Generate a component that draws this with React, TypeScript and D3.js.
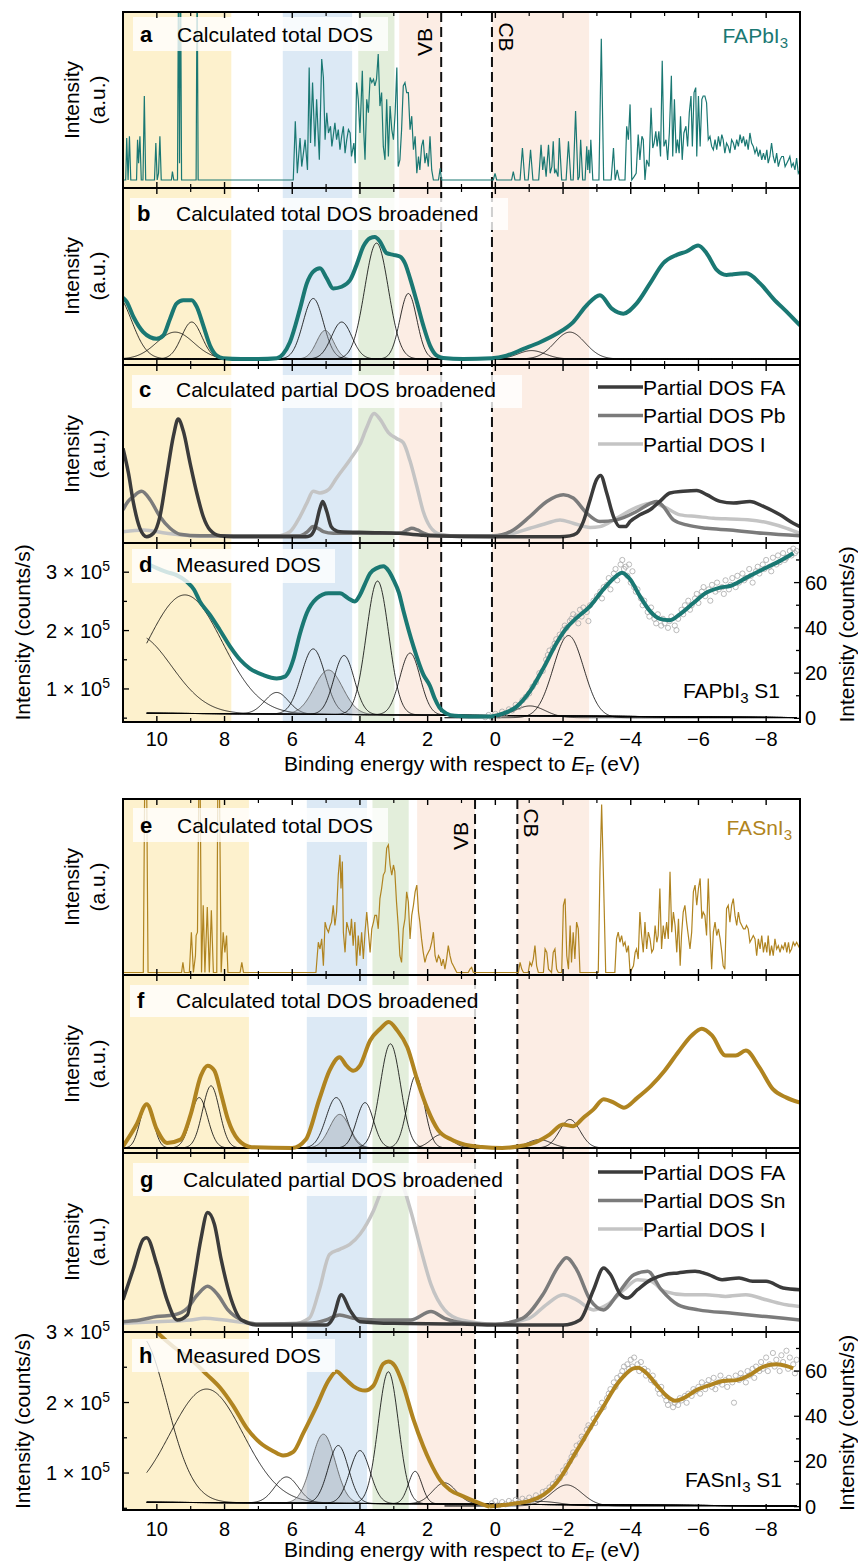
import React from "react";
import * as d3 from "d3";

type P = [number, number];

// ---------- axes ----------
const energyTicks = [10, 8, 6, 4, 2, 0, -2, -4, -6, -8];
const energyMinor = [9, 7, 5, 3, 1, -1, -3, -5, -7];
const leftCountTicks = [1, 2, 3]; // x 10^5 counts/s
const leftCountMinor = [0.5, 1.5, 2.5, 3.5];
const rightCountTicks = [0, 20, 40, 60];
const rightCountMinor = [10, 30, 50, 70];

// shaded energy windows (eV) and band edges
const bandsPb: P[] = [[11, 7.8], [6.28, 4.23], [4.05, 2.98], [2.84, 1.6], [0.1, -2.77]];
const bandsSn: P[] = [[11, 7.28], [5.57, 3.79], [3.63, 2.56], [2.31, 0.6], [-0.65, -2.77]];
const bandKinds = ["yellow", "blue", "green", "peach", "peach"];
const edgesPb = { vb: 1.6, cb: 0.1 };
const edgesSn = { vb: 0.6, cb: -0.65 };

// ---------- a: calculated total DOS FAPbI3 (a.u.) ----------
const totalPb: P[] = [
  [11.0, 0], [10.92, 0], [10.89, 25], [10.85, 0], [10.81, 26], [10.77, 0], [10.6, 0], [10.57, 24], [10.54, 10], [10.5, 26], [10.46, 0],
  [10.41, 0], [10.37, 50], [10.33, 0], [10.07, 0], [10.03, 22], [9.99, 0], [9.95, 4], [9.91, 26], [9.87, 0], [9.57, 0], [9.54, 5], [9.5, 0],
  [9.39, 0], [9.36, 130], [9.33, 10], [9.3, 130], [9.27, 0], [8.84, 0], [8.81, 130], [8.78, 0], [5.97, 0],
  [5.91, 35], [5.85, 4], [5.77, 25], [5.72, 8], [5.62, 24], [5.55, 6], [5.5, 67], [5.46, 22], [5.4, 58], [5.33, 20], [5.28, 48], [5.2, 12],
  [5.13, 72], [5.08, 61], [5.03, 24], [4.98, 40], [4.93, 28], [4.87, 32], [4.83, 20], [4.79, 26], [4.74, 34], [4.69, 24], [4.64, 30], [4.59, 18],
  [4.54, 26], [4.49, 32], [4.44, 16], [4.39, 24], [4.34, 30], [4.29, 28], [4.25, 14], [4.18, 22], [4.14, 10], [4.1, 58], [4.05, 48], [4.0, 28],
  [3.93, 65], [3.89, 30], [3.85, 12], [3.8, 48], [3.75, 40], [3.7, 61], [3.65, 58], [3.6, 60], [3.56, 56], [3.51, 60], [3.46, 75], [3.41, 44],
  [3.36, 52], [3.31, 20], [3.26, 12], [3.21, 48], [3.16, 14], [3.11, 44], [3.06, 30], [3.01, 24], [2.96, 40], [2.91, 67], [2.87, 8], [2.82, 12],
  [2.77, 30], [2.72, 56], [2.67, 58], [2.62, 52], [2.57, 52], [2.52, 30], [2.47, 38], [2.42, 18], [2.37, 26], [2.32, 4], [2.27, 14], [2.23, 6],
  [2.18, 20], [2.13, 24], [2.08, 10], [2.03, 16], [1.98, 8], [1.93, 26], [1.88, 6], [1.83, 0], [1.68, 0], [1.63, 7], [1.59, 0],
  [0.06, 0], [0.01, 4], [-0.04, 0], [-0.48, 0], [-0.53, 5], [-0.58, 0], [-0.73, 0], [-0.8, 19], [-0.87, 0], [-0.97, 0], [-1.04, 18], [-1.11, 0],
  [-1.28, 0], [-1.35, 21], [-1.4, 6], [-1.44, 14], [-1.5, 2], [-1.57, 21], [-1.62, 4], [-1.67, 8], [-1.71, 23], [-1.75, 4], [-1.79, 6], [-1.85, 2],
  [-1.89, 25], [-1.96, 0], [-2.09, 0], [-2.16, 23], [-2.23, 0], [-2.3, 0], [-2.37, 41], [-2.44, 0], [-2.48, 2], [-2.52, 24], [-2.58, 0], [-2.65, 0],
  [-2.7, 20], [-2.73, 6], [-2.76, 18], [-2.79, 4], [-2.82, 24], [-2.88, 0], [-3.06, 0], [-3.13, 84], [-3.2, 0], [-3.42, 0], [-3.49, 19], [-3.54, 0],
  [-3.6, 6], [-3.66, 0], [-3.83, 0], [-3.88, 32], [-3.93, 24], [-3.98, 45], [-4.03, 0], [-4.1, 2], [-4.16, 4], [-4.22, 27], [-4.27, 12], [-4.33, 26],
  [-4.37, 24], [-4.42, 0], [-4.47, 12], [-4.54, 8], [-4.6, 43], [-4.65, 19], [-4.69, 22], [-4.74, 29], [-4.78, 20], [-4.83, 29], [-4.88, 14],
  [-4.93, 71], [-4.98, 20], [-5.04, 24], [-5.09, 12], [-5.14, 28], [-5.2, 62], [-5.24, 14], [-5.29, 48], [-5.34, 16], [-5.38, 24], [-5.43, 16],
  [-5.47, 38], [-5.52, 12], [-5.57, 28], [-5.63, 32], [-5.68, 20], [-5.73, 40], [-5.78, 50], [-5.82, 20], [-5.87, 52], [-5.92, 55], [-5.95, 14],
  [-6.0, 50], [-6.05, 20], [-6.1, 48], [-6.14, 50], [-6.19, 50], [-6.24, 46], [-6.29, 24], [-6.34, 26], [-6.39, 20], [-6.44, 18], [-6.49, 24],
  [-6.54, 18], [-6.59, 26], [-6.64, 20], [-6.69, 27], [-6.73, 24], [-6.78, 16], [-6.83, 22], [-6.88, 20], [-6.93, 16], [-6.98, 24], [-7.03, 22],
  [-7.08, 18], [-7.13, 24], [-7.18, 20], [-7.23, 27], [-7.28, 22], [-7.33, 26], [-7.38, 20], [-7.42, 24], [-7.47, 18], [-7.52, 28], [-7.57, 22],
  [-7.62, 20], [-7.67, 16], [-7.72, 19], [-7.77, 14], [-7.82, 18], [-7.87, 12], [-7.92, 16], [-7.97, 12], [-8.02, 18], [-8.06, 10], [-8.11, 14],
  [-8.16, 22], [-8.21, 14], [-8.26, 10], [-8.31, 16], [-8.36, 8], [-8.41, 12], [-8.46, 14], [-8.51, 14], [-8.56, 8], [-8.61, 10], [-8.66, 12],
  [-8.7, 14], [-8.75, 8], [-8.8, 10], [-8.85, 6], [-8.9, 13], [-8.95, 4], [-9.0, 6],
];

// ---------- b: broadened total DOS FAPbI3 ----------
const broadPb: P[] = [
  [11.0, 36.5], [10.89, 34], [10.69, 25], [10.4, 16], [10.2, 13], [10.01, 12], [9.81, 14], [9.61, 24], [9.42, 33], [9.22, 35], [8.97, 35],
  [8.82, 31], [8.63, 20], [8.43, 8], [8.23, 2], [8.04, 0.5], [7.5, 0], [7.0, 0], [6.46, 0.5], [6.27, 3], [6.07, 10], [5.77, 30], [5.57, 45],
  [5.38, 52], [5.18, 54], [4.98, 48], [4.79, 42], [4.54, 43], [4.29, 47], [4.1, 56], [3.9, 67], [3.7, 72], [3.56, 72.6], [3.41, 70], [3.21, 63],
  [3.01, 62], [2.82, 61], [2.67, 57], [2.52, 48], [2.32, 34], [2.13, 20], [1.93, 8], [1.73, 2], [1.54, 0.6], [0.95, 0], [0.11, 0.4], [-0.33, 2],
  [-0.83, 6], [-1.32, 10], [-1.81, 15], [-2.3, 22], [-2.7, 32], [-3.09, 38], [-3.44, 30], [-3.78, 27], [-4.17, 33], [-4.57, 45], [-4.96, 57],
  [-5.36, 62], [-5.65, 64], [-5.99, 67.5], [-6.24, 63], [-6.54, 53], [-6.83, 50], [-7.03, 50.5], [-7.42, 51], [-7.82, 45], [-8.21, 36],
  [-8.61, 28], [-9.0, 20],
];
// fitted components: [centre eV, height, sigma eV]
const compsPbCalc = [
  [11.2, 38, 0.45], [9.46, 16, 0.55], [8.97, 22, 0.3], [5.38, 36, 0.3], [5.03, 17, 0.25], [4.54, 22, 0.3], [3.51, 69, 0.35],
  [2.57, 39, 0.25], [-1.07, 5, 0.4], [-2.2, 16, 0.45],
];
const shadedPbCalc = [4];

// ---------- c: partial DOS FAPbI3 ----------
const partialPbFA: P[] = [
  [11.0, 52.6], [10.84, 38], [10.69, 20], [10.5, 5], [10.3, 0], [10.1, 2], [9.91, 12], [9.71, 36], [9.51, 60], [9.37, 70], [9.22, 63], [9.02, 44],
  [8.82, 26], [8.63, 12], [8.43, 4], [8.13, 0.5], [7.74, 0], [5.6, 0], [5.48, 0.5], [5.33, 5], [5.18, 17], [5.1, 21], [4.98, 15], [4.85, 6],
  [4.7, 3.5], [4.59, 3], [3.8, 2.5], [2.82, 2], [2.23, 1], [1.93, 0.5], [0, 0], [-1.9, 0], [-2.2, 0.5], [-2.4, 2], [-2.6, 9], [-2.8, 22],
  [-2.99, 34], [-3.11, 36.5], [-3.29, 26], [-3.49, 12], [-3.68, 6], [-3.85, 6], [-3.98, 9], [-4.27, 13], [-4.57, 16], [-4.86, 21], [-5.16, 26],
  [-5.55, 27], [-5.95, 27.5], [-6.24, 25], [-6.64, 21], [-7.03, 20], [-7.52, 21], [-7.92, 18], [-8.41, 13], [-8.8, 8], [-9.0, 6],
];
const partialPbPb: P[] = [
  [11.0, 16], [10.85, 21], [10.69, 24], [10.45, 27], [10.2, 22], [9.91, 12], [9.61, 5], [9.32, 1.5], [8.73, 0.5], [5.77, 0.5], [5.55, 3],
  [5.38, 6], [5.2, 4.5], [5.08, 3], [4.79, 2], [3.8, 2], [2.82, 2], [2.6, 4], [2.47, 5], [2.3, 4], [2.1, 2], [1.93, 1], [0.95, 0.5], [0.06, 0.5],
  [-0.53, 4], [-1.02, 12], [-1.52, 21], [-2.01, 25], [-2.3, 23], [-2.7, 14], [-3.09, 9], [-3.58, 10], [-4.17, 15], [-4.6, 20], [-4.77, 21],
  [-4.96, 18], [-5.26, 10], [-5.65, 7], [-6.24, 5], [-6.93, 4], [-7.92, 2], [-9.0, 0.5],
];
const partialPbI: P[] = [
  [11.0, 3], [10.4, 4], [9.71, 2], [8.73, 0.3], [6.46, 0.5], [6.07, 3], [5.77, 12], [5.57, 20], [5.38, 27], [5.18, 26], [4.93, 28], [4.69, 35],
  [4.29, 46], [4.0, 55], [3.8, 65], [3.58, 73.4], [3.41, 70], [3.16, 62], [2.92, 58.5], [2.72, 56], [2.52, 45], [2.32, 30], [2.13, 15],
  [1.93, 6], [1.63, 1.5], [0.95, 0], [0.06, 0], [-0.53, 2], [-1.02, 5], [-1.52, 8], [-1.91, 10], [-2.3, 8], [-2.8, 5.5], [-3.09, 6],
  [-3.58, 11], [-4.17, 17.5], [-4.67, 20], [-4.96, 18], [-5.46, 13], [-5.95, 12], [-6.44, 11], [-6.93, 10.5], [-7.52, 10], [-8.11, 8],
  [-8.61, 5], [-9.0, 2],
];

// ---------- d: measured DOS FAPbI3 ----------
const fitPbLeft: P[] = [ // x 10^5 counts/s
  [10.3, 3.15], [10.0, 3.07], [9.7, 3.0], [9.42, 2.95], [9.12, 2.84], [8.9, 2.7], [8.73, 2.5], [8.43, 2.27], [8.14, 2.01], [7.84, 1.73],
  [7.54, 1.5], [7.25, 1.35], [6.86, 1.24], [6.46, 1.18], [6.22, 1.21], [6.1, 1.3], [5.97, 1.5], [5.77, 1.95], [5.57, 2.3], [5.28, 2.55],
  [4.93, 2.64], [4.59, 2.64], [4.34, 2.55], [4.15, 2.5], [4.0, 2.61], [3.85, 2.8], [3.7, 2.98], [3.5, 3.07], [3.31, 3.1], [3.15, 3.02],
  [3.01, 2.87], [2.85, 2.65], [2.72, 2.35], [2.42, 1.73], [2.13, 1.25], [1.93, 1.05], [1.8, 0.85], [1.65, 0.68], [1.45, 0.58], [1.2, 0.54],
  [0.75, 0.53], [0.16, 0.53],
];
const fitPbRight: P[] = [ // counts/s
  [0.16, 0.7], [-0.24, 2.2], [-0.63, 5.2], [-1.02, 11.9], [-1.42, 22.2], [-1.81, 33.3], [-2.11, 40], [-2.4, 44.4], [-2.8, 49.6], [-3.19, 57],
  [-3.58, 63], [-3.73, 64.4], [-3.98, 61.5], [-4.27, 54], [-4.57, 47.4], [-4.86, 44], [-5.16, 43.4], [-5.45, 46], [-5.85, 51], [-6.24, 55.6],
  [-6.64, 57.8], [-6.93, 58.5], [-7.42, 62.2], [-7.92, 66], [-8.41, 69.6], [-8.8, 73],
];
const measPb: P[] = [
  [0.3, 0.5], [0.2, 1.5], [0.1, 0.2], [0.0, 2.0], [-0.1, 1.0], [-0.2, 3.0], [-0.3, 2.2], [-0.4, 4.0], [-0.5, 3.5], [-0.6, 6.0], [-0.7, 5.0],
  [-0.8, 8.0], [-0.9, 9.5], [-1.0, 11], [-1.1, 14], [-1.2, 16], [-1.3, 20], [-1.4, 21], [-1.5, 26], [-1.55, 28], [-1.6, 30], [-1.7, 31],
  [-1.75, 33], [-1.8, 35], [-1.9, 37], [-1.95, 36], [-2.0, 39], [-2.05, 41], [-2.1, 40], [-2.2, 43], [-2.25, 44], [-2.3, 46], [-2.4, 45],
  [-2.45, 42], [-2.5, 48], [-2.55, 45], [-2.6, 49], [-2.7, 47], [-2.75, 43], [-2.8, 50], [-2.9, 52], [-3.0, 54], [-3.1, 56], [-3.15, 53],
  [-3.2, 58], [-3.3, 59], [-3.35, 62], [-3.4, 57], [-3.5, 64], [-3.55, 66], [-3.6, 61], [-3.7, 68], [-3.75, 70], [-3.8, 66], [-3.85, 67],
  [-3.9, 63], [-3.95, 68], [-4.0, 60], [-4.05, 65], [-4.1, 58], [-4.15, 56], [-4.2, 57], [-4.3, 53], [-4.35, 50], [-4.4, 52], [-4.5, 47],
  [-4.55, 45], [-4.6, 49], [-4.7, 44], [-4.75, 42], [-4.8, 46], [-4.9, 41], [-4.95, 44], [-5.0, 42], [-5.1, 40], [-5.15, 43], [-5.2, 45],
  [-5.3, 41], [-5.35, 39], [-5.4, 44], [-5.5, 48], [-5.55, 46], [-5.6, 50], [-5.7, 52], [-5.75, 48], [-5.8, 50], [-5.9, 53], [-5.95, 55],
  [-6.0, 51], [-6.1, 56], [-6.15, 58], [-6.2, 54], [-6.3, 57], [-6.35, 52], [-6.4, 59], [-6.5, 56], [-6.55, 60], [-6.6, 57], [-6.7, 58],
  [-6.75, 55], [-6.8, 61], [-6.9, 57], [-6.95, 59], [-7.0, 62], [-7.1, 58], [-7.15, 63], [-7.2, 60], [-7.3, 64], [-7.35, 61], [-7.4, 62],
  [-7.5, 66], [-7.55, 63], [-7.6, 60], [-7.7, 65], [-7.75, 67], [-7.8, 64], [-7.9, 68], [-7.95, 66], [-8.0, 70], [-8.1, 67], [-8.15, 65],
  [-8.2, 71], [-8.3, 68], [-8.35, 72], [-8.4, 69], [-8.5, 73], [-8.55, 70], [-8.6, 71], [-8.7, 74], [-8.75, 72], [-8.8, 75], [-8.85, 73],
  [-8.9, 74],
];
const backgroundPb: P[] = [[10.3, 0.585], [-8.9, 0.51]];
const compsPbMeas = [
  [9.17, 2.03, 1.1], [10.6, 1.34, 1.03], [6.46, 0.37, 0.35], [5.38, 1.12, 0.35], [4.93, 0.76, 0.42], [4.47, 1.01, 0.3], [3.48, 2.29, 0.33],
  [2.52, 1.06, 0.3],
];
const shadedPbMeas = [4];
const compsPbMeasRight = [[-1.02, 5.2, 0.45], [-2.16, 36.3, 0.45]];

// ---------- e: calculated total DOS FASnI3 ----------
const totalSn: P[] = [
  [11.0, 0], [10.4, 0], [10.36, 110], [10.3, 110], [10.26, 0], [9.27, 0], [9.23, 6], [9.19, 0], [9.04, 0], [8.98, 24], [8.92, 0], [8.86, 10],
  [8.84, 22], [8.8, 24], [8.76, 110], [8.72, 110], [8.68, 0], [8.63, 40], [8.58, 0], [8.51, 39], [8.45, 0], [8.39, 37], [8.33, 0], [8.23, 0],
  [8.2, 110], [8.15, 110], [8.1, 0], [8.04, 24], [7.99, 12], [7.94, 22], [7.9, 0], [7.54, 0], [7.49, 6], [7.44, 0], [5.3, 0],
  [5.23, 18], [5.18, 14], [5.13, 20], [5.08, 4], [5.03, 30], [4.98, 26], [4.93, 24], [4.88, 28], [4.84, 30], [4.79, 40], [4.74, 28], [4.69, 36],
  [4.64, 58], [4.59, 70], [4.56, 50], [4.52, 66], [4.49, 24], [4.44, 12], [4.39, 30], [4.34, 26], [4.29, 22], [4.25, 32], [4.2, 16], [4.15, 30],
  [4.1, 4], [4.05, 22], [4.0, 10], [3.95, 24], [3.9, 8], [3.85, 24], [3.8, 36], [3.75, 24], [3.7, 12], [3.65, 26], [3.6, 30], [3.56, 34],
  [3.51, 34], [3.46, 26], [3.41, 44], [3.36, 50], [3.31, 58], [3.26, 60], [3.21, 74], [3.16, 76], [3.11, 64], [3.06, 58], [3.01, 64],
  [2.97, 60], [2.92, 42], [2.87, 28], [2.82, 10], [2.77, 6], [2.72, 26], [2.67, 32], [2.62, 48], [2.57, 42], [2.52, 20], [2.47, 34], [2.42, 40],
  [2.37, 48], [2.32, 52], [2.27, 36], [2.23, 30], [2.18, 20], [2.13, 12], [2.08, 6], [2.03, 10], [1.93, 14], [1.88, 18], [1.83, 24], [1.78, 10],
  [1.73, 6], [1.68, 10], [1.63, 8], [1.59, 4], [1.54, 8], [1.49, 2], [1.44, 8], [1.39, 16], [1.34, 10], [1.29, 6], [1.24, 4], [1.19, 2],
  [1.14, 0], [1.09, 0], [0.8, 0], [0.75, 2], [0.7, 3], [0.65, 0], [-0.68, 0], [-0.73, 6], [-0.78, 2], [-0.83, 0], [-0.97, 0], [-1.02, 6],
  [-1.07, 4], [-1.12, 8], [-1.17, 16], [-1.22, 4], [-1.27, 0], [-1.42, 0], [-1.47, 14], [-1.52, 12], [-1.57, 2], [-1.66, 0], [-1.71, 12],
  [-1.76, 14], [-1.81, 2], [-1.86, 0], [-1.96, 0], [-2.01, 40], [-2.06, 44], [-2.11, 10], [-2.16, 2], [-2.21, 28], [-2.25, 6], [-2.3, 24],
  [-2.35, 8], [-2.4, 30], [-2.45, 26], [-2.5, 0], [-3.04, 0], [-3.09, 60], [-3.14, 100], [-3.19, 60], [-3.26, 0], [-3.53, 0], [-3.58, 20],
  [-3.63, 24], [-3.68, 18], [-3.73, 22], [-3.78, 16], [-3.83, 18], [-3.88, 12], [-3.93, 16], [-3.98, 0], [-4.08, 4], [-4.13, 12], [-4.17, 14],
  [-4.22, 8], [-4.27, 36], [-4.32, 22], [-4.37, 12], [-4.42, 30], [-4.47, 14], [-4.52, 24], [-4.57, 20], [-4.62, 12], [-4.67, 14], [-4.72, 28],
  [-4.77, 18], [-4.81, 22], [-4.86, 50], [-4.91, 14], [-4.96, 28], [-5.01, 20], [-5.06, 30], [-5.11, 20], [-5.16, 60], [-5.21, 24],
  [-5.26, 36], [-5.31, 28], [-5.36, 12], [-5.41, 32], [-5.46, 4], [-5.5, 22], [-5.55, 36], [-5.6, 40], [-5.65, 30], [-5.7, 22], [-5.75, 14],
  [-5.8, 24], [-5.85, 48], [-5.9, 52], [-5.95, 40], [-6.0, 50], [-6.05, 56], [-6.1, 32], [-6.14, 36], [-6.19, 34], [-6.24, 22], [-6.29, 56],
  [-6.34, 26], [-6.39, 2], [-6.44, 24], [-6.49, 30], [-6.54, 22], [-6.59, 26], [-6.64, 20], [-6.69, 12], [-6.73, 4], [-6.78, 2], [-6.83, 38],
  [-6.88, 40], [-6.93, 30], [-6.98, 40], [-7.03, 44], [-7.08, 34], [-7.13, 28], [-7.18, 36], [-7.23, 30], [-7.28, 28], [-7.33, 26],
  [-7.38, 26], [-7.42, 28], [-7.47, 26], [-7.52, 18], [-7.57, 20], [-7.62, 22], [-7.67, 20], [-7.72, 10], [-7.77, 20], [-7.82, 14],
  [-7.87, 22], [-7.92, 12], [-7.97, 18], [-8.02, 12], [-8.06, 22], [-8.11, 10], [-8.16, 16], [-8.21, 10], [-8.26, 20], [-8.31, 14],
  [-8.36, 16], [-8.41, 12], [-8.46, 16], [-8.51, 14], [-8.56, 18], [-8.61, 12], [-8.66, 18], [-8.7, 12], [-8.75, 14], [-8.8, 18], [-8.85, 16],
  [-8.9, 18], [-8.95, 16], [-9.0, 14],
];

// ---------- f: broadened total DOS FASnI3 ----------
const broadSn: P[] = [
  [11.0, 1], [10.6, 14], [10.3, 26], [10.0, 11], [9.7, 3], [9.3, 5], [9.0, 20], [8.7, 43], [8.5, 49], [8.3, 46], [8.1, 32], [7.9, 17], [7.6, 5],
  [7.2, 0.5], [6.0, 0], [5.6, 5], [5.2, 29], [4.9, 46], [4.6, 54], [4.4, 49], [4.2, 46], [4.0, 49], [3.7, 64], [3.4, 71], [3.15, 75], [2.9, 70],
  [2.6, 60], [2.3, 40], [2.0, 23], [1.7, 11], [1.3, 5], [0.9, 2], [0.4, 0.6], [-0.2, 0], [-0.7, 1], [-1.2, 3.5], [-1.6, 8], [-2.0, 14],
  [-2.3, 13], [-2.6, 18], [-2.9, 23], [-3.2, 29], [-3.5, 27], [-3.8, 24], [-4.2, 30], [-4.6, 37], [-5.0, 46], [-5.4, 57], [-5.8, 67],
  [-6.1, 71], [-6.4, 67], [-6.8, 55], [-7.1, 55], [-7.4, 58], [-7.8, 48], [-8.2, 35], [-8.6, 30], [-9.0, 27],
];
const compsSnCalc = [
  [10.3, 26, 0.2], [8.75, 30, 0.25], [8.4, 37, 0.25], [4.7, 30, 0.3], [4.6, 20, 0.3], [3.85, 27, 0.25], [3.1, 62, 0.3], [2.35, 43, 0.25],
  [1.6, 8, 0.3], [-1.3, 5, 0.35], [-2.2, 17, 0.3],
];
const shadedSnCalc = [4];

// ---------- g: partial DOS FASnI3 ----------
const partialSnFA: P[] = [
  [11.0, 15], [10.7, 33], [10.4, 51], [10.3, 52], [10.0, 36], [9.7, 15], [9.4, 3], [9.1, 6], [8.9, 27], [8.7, 51], [8.5, 67], [8.3, 60],
  [8.1, 39], [7.8, 15], [7.5, 3], [7.0, 0], [5.0, 0], [4.8, 4], [4.55, 18], [4.3, 9], [4.0, 2], [3.0, 1], [1.0, 0.6], [0.0, 0], [-2.0, 0],
  [-2.5, 3], [-2.9, 21], [-3.2, 34], [-3.4, 30], [-3.7, 18], [-3.9, 16], [-4.2, 21], [-4.6, 27], [-5.0, 30], [-5.4, 31], [-5.9, 32],
  [-6.3, 30], [-6.7, 27], [-7.2, 28], [-7.6, 26], [-8.0, 26], [-8.5, 22], [-9.0, 21],
];
const partialSnSn: P[] = [
  [11.0, 2], [10.5, 3], [10.0, 5], [9.5, 6], [9.1, 10], [8.8, 18], [8.5, 23], [8.2, 18], [7.9, 9], [7.5, 3], [7.0, 0.6], [5.5, 1], [5.0, 3],
  [4.6, 6], [4.2, 4], [3.5, 3], [2.5, 3], [1.9, 8], [1.5, 4], [0.8, 1], [0.0, 0.5], [-0.8, 4], [-1.4, 18], [-1.9, 36], [-2.1, 40], [-2.4, 33],
  [-2.8, 15], [-3.2, 9], [-3.6, 18], [-4.1, 30], [-4.5, 32], [-4.9, 21], [-5.4, 12], [-6.0, 9], [-7.0, 7], [-8.0, 5], [-9.0, 3],
];
const partialSnI: P[] = [
  [11.0, 1], [10.0, 2], [9.0, 3], [8.6, 4], [8.0, 3], [7.0, 0.5], [6.0, 0.5], [5.5, 4], [5.2, 21], [4.9, 42], [4.6, 45], [4.3, 48], [4.0, 54],
  [3.6, 68], [3.3, 83], [3.05, 90], [2.8, 86], [2.5, 68], [2.2, 45], [1.9, 24], [1.5, 9], [1.0, 3], [0.0, 0.5], [-1.0, 4], [-1.5, 12],
  [-2.0, 18], [-2.4, 15], [-2.9, 9], [-3.3, 12], [-3.8, 21], [-4.2, 27], [-4.6, 26], [-5.0, 20], [-5.6, 18], [-6.2, 18], [-6.8, 17],
  [-7.4, 18], [-8.0, 15], [-8.6, 12], [-9.0, 11],
];

// ---------- h: measured DOS FASnI3 ----------
const fitSnLeft: P[] = [
  [10.4, 3.2], [10.0, 3.0], [9.51, 2.79], [9.02, 2.62], [8.53, 2.4], [8.13, 2.21], [7.74, 1.95], [7.35, 1.64], [6.95, 1.43], [6.56, 1.31],
  [6.27, 1.25], [5.97, 1.3], [5.67, 1.57], [5.28, 1.95], [4.93, 2.31], [4.69, 2.44], [4.49, 2.36], [4.19, 2.23], [3.85, 2.17], [3.6, 2.24],
  [3.31, 2.55], [3.16, 2.58], [2.97, 2.52], [2.72, 2.24], [2.42, 1.76], [2.13, 1.38], [1.93, 1.16], [1.63, 0.9], [1.34, 0.76], [0.95, 0.67],
  [0.45, 0.57], [0.16, 0.52],
];
const fitSnRight: P[] = [
  [0.16, 0], [-0.24, 0.7], [-0.63, 1.5], [-1.02, 2.5], [-1.42, 5.2], [-1.71, 8.8], [-2.01, 14.7], [-2.3, 22.1], [-2.6, 29.5], [-2.89, 36.9],
  [-3.19, 44.2], [-3.48, 51.6], [-3.78, 57.5], [-4.08, 61.2], [-4.22, 61.5], [-4.47, 59], [-4.77, 53.8], [-5.06, 49], [-5.31, 46.9],
  [-5.55, 47.9], [-5.95, 51.6], [-6.34, 53.8], [-6.73, 55.6], [-7.13, 56], [-7.52, 58.3], [-7.92, 62], [-8.31, 63], [-8.61, 62.2], [-8.8, 61.2],
];
const measSn: P[] = [
  [0.1, 1.5], [0.0, 2.5], [-0.1, 0.5], [-0.2, 2.0], [-0.3, 1.0], [-0.4, 2.5], [-0.5, 1.5], [-0.6, 3.0], [-0.7, 2.0], [-0.8, 3.5], [-0.9, 2.5],
  [-1.0, 4.0], [-1.1, 3.0], [-1.2, 5.0], [-1.3, 4.0], [-1.4, 6.5], [-1.5, 7.0], [-1.6, 8.5], [-1.7, 10], [-1.8, 11], [-1.85, 13], [-1.9, 12.5],
  [-2.0, 16], [-2.05, 15], [-2.1, 18], [-2.2, 20], [-2.25, 22], [-2.3, 24], [-2.35, 23], [-2.4, 27], [-2.5, 28], [-2.55, 31], [-2.6, 30],
  [-2.7, 34], [-2.75, 36], [-2.8, 35], [-2.9, 39], [-2.95, 37], [-3.0, 41], [-3.1, 43], [-3.15, 46], [-3.2, 44], [-3.3, 48], [-3.35, 50],
  [-3.4, 52], [-3.5, 55], [-3.55, 53], [-3.6, 57], [-3.7, 58], [-3.75, 60], [-3.8, 62], [-3.9, 63], [-3.95, 61], [-4.0, 65], [-4.05, 62],
  [-4.1, 66], [-4.2, 63], [-4.25, 60], [-4.3, 64], [-4.4, 61], [-4.45, 58], [-4.5, 60], [-4.6, 56], [-4.65, 58], [-4.7, 55], [-4.8, 52],
  [-4.85, 50], [-4.9, 53], [-5.0, 49], [-5.05, 47], [-5.1, 45], [-5.2, 47], [-5.25, 44], [-5.3, 46], [-5.4, 45], [-5.45, 48], [-5.5, 47],
  [-5.6, 49], [-5.65, 46], [-5.7, 50], [-5.8, 49], [-5.85, 52], [-5.9, 51], [-6.0, 53], [-6.05, 50], [-6.1, 55], [-6.2, 52], [-6.25, 54],
  [-6.3, 56], [-6.4, 53], [-6.45, 57], [-6.5, 52], [-6.6, 55], [-6.65, 58], [-6.7, 54], [-6.8, 56], [-6.85, 53], [-6.9, 57], [-7.0, 55],
  [-7.05, 46], [-7.1, 58], [-7.2, 56], [-7.25, 59], [-7.3, 57], [-7.4, 55], [-7.45, 60], [-7.5, 58], [-7.6, 61], [-7.65, 57], [-7.7, 62],
  [-7.8, 60], [-7.85, 64], [-7.9, 61], [-8.0, 66], [-8.05, 60], [-8.1, 63], [-8.2, 68], [-8.25, 62], [-8.3, 65], [-8.4, 60], [-8.45, 67],
  [-8.5, 64], [-8.6, 69], [-8.65, 61], [-8.7, 66], [-8.8, 63], [-8.85, 59], [-8.9, 65],
];
const backgroundSn: P[] = [[10.3, 0.586], [-8.9, 0.533]];
const compsSnMeas = [
  [10.5, 2.36, 0.79], [8.53, 1.61, 1.08], [6.17, 0.37, 0.35], [5.08, 0.98, 0.35], [4.64, 0.82, 0.3], [4.0, 0.75, 0.3], [3.16, 1.87, 0.3],
  [2.37, 0.46, 0.2], [1.5, 0.3, 0.35],
];
const shadedSnMeas = [3];
const compsSnMeasRight = [[-1.3, 2, 0.6], [-2.11, 9.3, 0.45]];

// ---------- styling ----------
const FONT = "'Liberation Sans', Arial, Helvetica, sans-serif";
const TEAL = "#1a7873";
const GOLD = "#b08420";
const BAND_FILL: Record<string, string> = { yellow: "#fdf1cd", blue: "#dce9f5", green: "#e3eedb", peach: "#fcede4" };
const PARTIAL = ["#3b3b3b", "#7b7b7b", "#c4c4c4"];

const X0 = 123;
const X1 = 800;
const x = d3.scaleLinear().domain([11, -9]).range([X0, X1]);
const auScale = (base: number) => d3.scaleLinear().domain([0, 100]).range([base, base - 168]);

const gauss = (e: number, c: number[]) => c[1] * Math.exp(-((e - c[0]) ** 2) / (2 * c[2] * c[2]));

function path(pts: P[], ys: any, smooth = false) {
  const gen = d3.line<P>().x((d) => x(d[0])).y((d) => ys(d[1]));
  if (smooth) gen.curve(d3.curveMonotoneX);
  return gen(pts) || "";
}

function Frame({ top, bottom }: { top: number; bottom: number }) {
  return (
    <g stroke="#000">
      {energyTicks.map((t) => (
        <g key={t} strokeWidth={1.4}>
          <line x1={x(t)} x2={x(t)} y1={top} y2={top + 6} />
          <line x1={x(t)} x2={x(t)} y1={bottom} y2={bottom - 6} />
        </g>
      ))}
      {energyMinor.map((t) => (
        <g key={t} strokeWidth={1.2}>
          <line x1={x(t)} x2={x(t)} y1={top} y2={top + 4} />
          <line x1={x(t)} x2={x(t)} y1={bottom} y2={bottom - 4} />
        </g>
      ))}
      <rect x={X0} y={top} width={X1 - X0} height={bottom - top} fill="none" strokeWidth={2} />
    </g>
  );
}

function Tag({ box, letter, text, tx, by }: { box: number[]; letter: string; text: string; tx: number; by: number }) {
  return (
    <g>
      <rect x={box[0]} y={box[1]} width={box[2] - box[0]} height={box[3] - box[1]} fill="#fff" fillOpacity={0.8} />
      <text x={box[0] + 7} y={by} fontSize={22} fontWeight="bold">{letter}</text>
      <text x={tx} y={by} fontSize={21}>{text}</text>
    </g>
  );
}

function AuLabel({ cy }: { cy: number }) {
  return (
    <g fontSize={21} textAnchor="middle">
      <text transform={`translate(71,${cy}) rotate(-90)`} dominantBaseline="central">Intensity</text>
      <text transform={`translate(97,${cy}) rotate(-90)`} dominantBaseline="central">(a.u.)</text>
    </g>
  );
}

function Components({ comps, shaded, ys, base, from, to }: any) {
  const grid = d3.range(from, to - 1e-9, -0.02);
  return (
    <g>
      {comps.map((c: number[], i: number) => {
        const pts: P[] = grid.map((e: number) => [e, base(e) + gauss(e, c)]);
        const d = path(pts, ys);
        if (shaded.includes(i)) {
          const area = d3
            .area<number>()
            .x((e) => x(e))
            .y0((e) => ys(base(e)))
            .y1((e) => ys(base(e) + gauss(e, c)))(grid);
          return (
            <g key={i}>
              <path d={area || ""} fill="#9aa2ac" fillOpacity={0.4} />
              <path d={d} fill="none" stroke="#555" strokeWidth={0.8} />
            </g>
          );
        }
        return <path key={i} d={d} fill="none" stroke="#000" strokeWidth={0.8} />;
      })}
    </g>
  );
}

function Bands({ bands, top, bottom }: { bands: P[]; top: number; bottom: number }) {
  return (
    <g>
      {bands.map((b, i) => (
        <rect key={i} x={x(b[0])} y={top} width={x(b[1]) - x(b[0])} height={bottom - top} fill={BAND_FILL[bandKinds[i]]} />
      ))}
    </g>
  );
}

function Edges({ edges, top, bottom }: { edges: { vb: number; cb: number }; top: number; bottom: number }) {
  return (
    <g stroke="#111" strokeWidth={2} strokeDasharray="10 5">
      <line x1={x(edges.vb)} x2={x(edges.vb)} y1={top} y2={bottom} />
      <line x1={x(edges.cb)} x2={x(edges.cb)} y1={top} y2={bottom} />
    </g>
  );
}

function Legend({ names, top }: { names: string[]; top: number }) {
  return (
    <g>
      {names.map((n, i) => (
        <g key={n}>
          <line x1={598} x2={643} y1={top + i * 28.5} y2={top + i * 28.5} stroke={PARTIAL[i]} strokeWidth={3.5} />
          <text x={643} y={top + i * 28.5} fontSize={21} dominantBaseline="central">{n}</text>
        </g>
      ))}
    </g>
  );
}

function EnergyAxis({ baseline, titleY }: { baseline: number; titleY: number }) {
  return (
    <g>
      {energyTicks.map((t) => (
        <text key={t} x={x(t)} y={baseline} fontSize={20} textAnchor="middle">
          {t < 0 ? `\u2212${-t}` : `${t}`}
        </text>
      ))}
      <text x={462} y={titleY} fontSize={21} textAnchor="middle">
        Binding energy with respect to <tspan fontStyle="italic">E</tspan>
        <tspan dy={4} fontSize={15}>F</tspan>
        <tspan dy={-4}> (eV)</tspan>
      </text>
    </g>
  );
}

function CountAxes({ yl, yr, top, bottom }: any) {
  return (
    <g>
      <g stroke="#000" strokeWidth={1.3}>
        {leftCountTicks.map((t) => <line key={t} x1={X0} x2={X0 + 6} y1={yl(t)} y2={yl(t)} />)}
        {leftCountMinor.filter((t) => yl(t) > top && yl(t) < bottom).map((t) => <line key={t} x1={X0} x2={X0 + 4} y1={yl(t)} y2={yl(t)} />)}
        {rightCountTicks.map((t) => <line key={t} x1={X1} x2={X1 - 6} y1={yr(t)} y2={yr(t)} />)}
        {rightCountMinor.filter((t) => yr(t) > top && yr(t) < bottom).map((t) => <line key={t} x1={X1} x2={X1 - 4} y1={yr(t)} y2={yr(t)} />)}
      </g>
      {leftCountTicks.map((t) => (
        <text key={t} x={110} y={yl(t) + 7} fontSize={20} textAnchor="end">
          {t} × 10<tspan dy={-8} fontSize={14}>5</tspan>
        </text>
      ))}
      {rightCountTicks.map((t) => (
        <text key={t} x={805} y={yr(t) + 7} fontSize={20}>{t}</text>
      ))}
      <text transform={`translate(22,${(top + bottom) / 2}) rotate(-90)`} fontSize={21} textAnchor="middle" dominantBaseline="central">
        Intensity (counts/s)
      </text>
      <text transform={`translate(846,${(top + bottom) / 2 + 2}) rotate(-90)`} fontSize={21} textAnchor="middle" dominantBaseline="central">
        Intensity (counts/s)
      </text>
    </g>
  );
}

function Clip({ id, top, bottom }: { id: string; top: number; bottom: number }) {
  return (
    <clipPath id={id}>
      <rect x={X0} y={top} width={X1 - X0} height={bottom - top} />
    </clipPath>
  );
}

function MeasuredPanel({ id, top, bottom, yl, yr, color, fitLeft, fitRight, meas, background, comps, shaded, compsRight, tag, sample }: any) {
  const base = d3.scaleLinear().domain([background[0][0], background[1][0]]).range([background[0][1], background[1][1]]);
  return (
    <g>
      <g clipPath={`url(#${id})`}>
        <path d={path(background, yl)} fill="none" stroke="#555" strokeWidth={0.9} />
        <Components comps={comps} shaded={shaded} ys={yl} base={base} from={background[0][0]} to={background[1][0]} />
        <Components comps={compsRight} shaded={[]} ys={yr} base={() => 0.3} from={1.5} to={background[1][0]} />
        {meas.map((p: P, i: number) => (
          <circle key={i} cx={x(p[0])} cy={yr(p[1])} r={2.6} fill="none" stroke="#aaa" strokeWidth={0.8} />
        ))}
        <path d={path(fitLeft, yl, true)} fill="none" stroke={color} strokeWidth={4} strokeLinejoin="round" />
        <path d={path(fitRight, yr, true)} fill="none" stroke={color} strokeWidth={4} strokeLinejoin="round" />
      </g>
      <Tag {...tag} />
      {sample}
      <CountAxes yl={yl} yr={yr} top={top} bottom={bottom} />
    </g>
  );
}

export default function App() {
  // top figure (FAPbI3)
  const ya = auScale(180);
  const yb = auScale(359);
  const yc = auScale(536.7);
  const ydl = d3.scaleLinear().domain([0.434, 3.5]).range([722, 543]);
  const ydr = d3.scaleLinear().domain([-1.6, 77.5]).range([722, 543]);
  // bottom figure (FASnI3)
  const ye = auScale(972.5);
  const yf = auScale(1148);
  const yg = auScale(1325);
  const yhl = d3.scaleLinear().domain([0.476, 3.0]).range([1510, 1332]);
  const yhr = d3.scaleLinear().domain([-1.5, 77.3]).range([1510, 1332]);
  const zero = () => 0;

  return (
    <svg width={858} height={1568} style={{ position: "absolute", left: 0, top: 0, background: "#fff" }} fontFamily={FONT}>
      <defs>
        <Clip id="ca" top={12} bottom={188} />
        <Clip id="cb" top={188} bottom={365} />
        <Clip id="cc" top={365} bottom={543} />
        <Clip id="cd" top={543} bottom={722} />
        <Clip id="ce" top={799} bottom={975} />
        <Clip id="cf" top={975} bottom={1153} />
        <Clip id="cg" top={1153} bottom={1332} />
        <Clip id="ch" top={1332} bottom={1510} />
      </defs>

      {/* ===== FAPbI3 ===== */}
      <Bands bands={bandsPb} top={12} bottom={722} />
      <Edges edges={edgesPb} top={12} bottom={722} />

      <g clipPath="url(#ca)">
        <path d={path(totalPb, ya)} fill="none" stroke={TEAL} strokeWidth={1.2} />
      </g>
      <Tag box={[133, 17, 388, 51]} letter="a" text="Calculated total DOS" tx={177} by={42} />
      <text transform={`translate(424,42) rotate(-90)`} fontSize={21} textAnchor="middle" dominantBaseline="central">VB</text>
      <text transform={`translate(506,37) rotate(90)`} fontSize={21} textAnchor="middle" dominantBaseline="central">CB</text>
      <text x={788} y={43} fontSize={21} textAnchor="end" fill={TEAL}>
        FAPbI<tspan dy={5} fontSize={15}>3</tspan>
      </text>
      <AuLabel cy={100} />

      <g clipPath="url(#cb)">
        <Components comps={compsPbCalc} shaded={shadedPbCalc} ys={yb} base={zero} from={11} to={-9} />
        <path d={path(broadPb, yb, true)} fill="none" stroke={TEAL} strokeWidth={4} />
      </g>
      <Tag box={[130, 198, 508, 230]} letter="b" text="Calculated total DOS broadened" tx={176} by={221} />
      <AuLabel cy={276} />

      <g clipPath="url(#cc)">
        <path d={path(partialPbI, yc, true)} fill="none" stroke={PARTIAL[2]} strokeWidth={3.5} />
        <path d={path(partialPbPb, yc, true)} fill="none" stroke={PARTIAL[1]} strokeWidth={3.5} />
        <path d={path(partialPbFA, yc, true)} fill="none" stroke={PARTIAL[0]} strokeWidth={3.5} />
      </g>
      <Tag box={[132, 375, 522, 408]} letter="c" text="Calculated partial DOS broadened" tx={176} by={397} />
      <Legend names={["Partial DOS FA", "Partial DOS Pb", "Partial DOS I"]} top={387} />
      <AuLabel cy={454} />

      <MeasuredPanel
        id="cd" top={543} bottom={722} yl={ydl} yr={ydr} color={TEAL}
        fitLeft={fitPbLeft} fitRight={fitPbRight} meas={measPb} background={backgroundPb}
        comps={compsPbMeas} shaded={shadedPbMeas} compsRight={compsPbMeasRight}
        tag={{ box: [132, 549, 335, 583], letter: "d", text: "Measured DOS", tx: 176, by: 572 }}
        sample={
          <text x={780} y={698} fontSize={21} textAnchor="end">
            FAPbI<tspan dy={5} fontSize={15}>3</tspan><tspan dy={-5}> S1</tspan>
          </text>
        }
      />

      <Frame top={12} bottom={188} />
      <Frame top={188} bottom={365} />
      <Frame top={365} bottom={543} />
      <Frame top={543} bottom={722} />
      <EnergyAxis baseline={746} titleY={771} />

      {/* ===== FASnI3 ===== */}
      <Bands bands={bandsSn} top={799} bottom={1510} />
      <Edges edges={edgesSn} top={799} bottom={1510} />

      <g clipPath="url(#ce)">
        <path d={path(totalSn, ye)} fill="none" stroke={GOLD} strokeWidth={1.2} />
      </g>
      <Tag box={[133, 808, 388, 842]} letter="e" text="Calculated total DOS" tx={177} by={833} />
      <text transform={`translate(460,836) rotate(-90)`} fontSize={21} textAnchor="middle" dominantBaseline="central">VB</text>
      <text transform={`translate(531,823) rotate(90)`} fontSize={21} textAnchor="middle" dominantBaseline="central">CB</text>
      <text x={792} y={835} fontSize={21} textAnchor="end" fill={GOLD}>
        FASnI<tspan dy={5} fontSize={15}>3</tspan>
      </text>
      <AuLabel cy={887} />

      <g clipPath="url(#cf)">
        <Components comps={compsSnCalc} shaded={shadedSnCalc} ys={yf} base={zero} from={11} to={-9} />
        <path d={path(broadSn, yf, true)} fill="none" stroke={GOLD} strokeWidth={4} />
      </g>
      <Tag box={[130, 985, 508, 1017]} letter="f" text="Calculated total DOS broadened" tx={176} by={1008} />
      <AuLabel cy={1064} />

      <g clipPath="url(#cg)">
        <path d={path(partialSnI, yg, true)} fill="none" stroke={PARTIAL[2]} strokeWidth={3.5} />
        <path d={path(partialSnSn, yg, true)} fill="none" stroke={PARTIAL[1]} strokeWidth={3.5} />
        <path d={path(partialSnFA, yg, true)} fill="none" stroke={PARTIAL[0]} strokeWidth={3.5} />
      </g>
      <Tag box={[133, 1163, 515, 1196]} letter="g" text="Calculated partial DOS broadened" tx={183} by={1187} />
      <Legend names={["Partial DOS FA", "Partial DOS Sn", "Partial DOS I"]} top={1172} />
      <AuLabel cy={1242} />

      <MeasuredPanel
        id="ch" top={1332} bottom={1510} yl={yhl} yr={yhr} color={GOLD}
        fitLeft={fitSnLeft} fitRight={fitSnRight} meas={measSn} background={backgroundSn}
        comps={compsSnMeas} shaded={shadedSnMeas} compsRight={compsSnMeasRight}
        tag={{ box: [132, 1339, 335, 1372], letter: "h", text: "Measured DOS", tx: 176, by: 1363 }}
        sample={
          <text x={782} y={1487} fontSize={21} textAnchor="end">
            FASnI<tspan dy={5} fontSize={15}>3</tspan><tspan dy={-5}> S1</tspan>
          </text>
        }
      />

      <Frame top={799} bottom={975} />
      <Frame top={975} bottom={1153} />
      <Frame top={1153} bottom={1332} />
      <Frame top={1332} bottom={1510} />
      <EnergyAxis baseline={1536} titleY={1557} />
    </svg>
  );
}
